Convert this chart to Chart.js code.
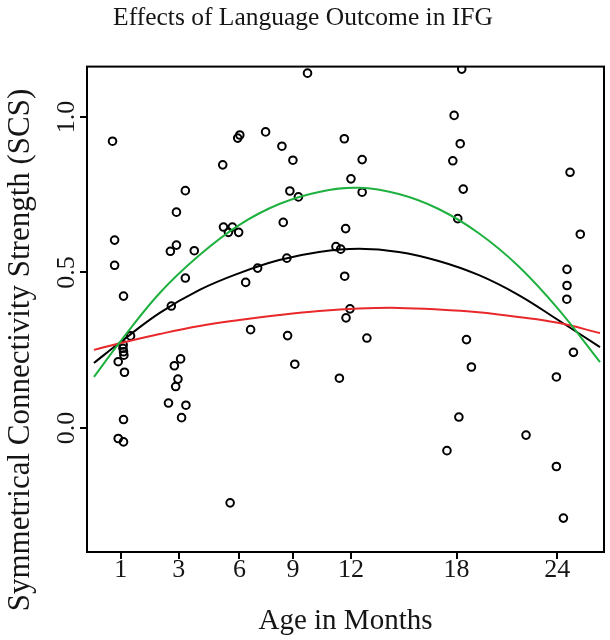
<!DOCTYPE html>
<html>
<head>
<meta charset="utf-8">
<script src="https://cdn.jsdelivr.net/npm/chart.js@4.4.1/dist/chart.umd.min.js"></script>
<style>
  html, body { margin: 0; padding: 0; background: #fff; }
  #wrap { width: 610px; height: 640px; }
</style>
</head>
<body>
<div id="wrap"><canvas id="scsChart" width="610" height="640"></canvas></div>
<script>
        // --- Data (x is the plotted age scale, ticks carry the month labels) ---
        const xTickPos = [1, 4.05, 7.25, 10.08, 13.13, 18.70, 24];
        const xTickLabels = ['1', '3', '6', '9', '12', '18', '24'];
        const yTicks = [0, 0.5, 1.0];

        // subjects: age and symmetrical connectivity strength
        const ageX = [0.56, 7.16, 7.27, 6.37, 4.40, 3.93, 0.67, 6.41, 6.67, 6.88,
            7.21, 3.93, 3.61, 4.87, 10.84, 8.63, 9.49, 10.07, 12.78, 13.72,
            13.13, 9.91, 10.36, 13.72, 9.56, 12.85, 12.34, 12.59, 9.75, 18.97,
            18.57, 18.89, 18.50, 19.05, 18.76, 24.68, 25.22, 0.67, 4.40, 1.14,
            3.66, 7.58, 8.21, 7.84, 1.51, 1.12, 1.11, 1.14, 1.16, 0.86,
            1.19, 4.15, 3.82, 4.01, 3.89, 3.51, 4.43, 4.20, 1.14, 0.86,
            1.14, 6.76, 12.80, 13.08, 12.87, 9.79, 13.97, 10.17, 12.52, 24.52,
            24.52, 24.51, 19.22, 24.86, 19.48, 23.96, 18.82, 22.36, 18.19, 23.96, 24.33];
        const scsY = [0.922, 0.932, 0.942, 0.846, 0.763, 0.694, 0.604, 0.646, 0.629, 0.646,
            0.629, 0.588, 0.568, 0.570, 1.141, 0.952, 0.906, 0.861, 0.930, 0.863,
            0.801, 0.762, 0.743, 0.758, 0.661, 0.641, 0.583, 0.575, 0.546, 1.154,
            1.005, 0.914, 0.859, 0.768, 0.673, 0.822, 0.623, 0.523, 0.482, 0.424,
            0.392, 0.468, 0.514, 0.316, 0.296, 0.267, 0.256, 0.245, 0.234, 0.213,
            0.179, 0.222, 0.200, 0.157, 0.133, 0.080, 0.073, 0.033, 0.027, -0.034,
            -0.045, -0.241, 0.488, 0.383, 0.354, 0.297, 0.289, 0.205, 0.160, 0.510,
            0.458, 0.414, 0.284, 0.243, 0.196, 0.164, 0.035, -0.023, -0.073, -0.124, -0.290];

        const curveX = [-0.42, 1.00, 3.05, 5.15, 7.25, 9.35, 11.45, 13.55, 15.65, 17.75, 19.85, 21.95, 24.05, 26.26];
        const greenY = [0.164, 0.280, 0.434, 0.556, 0.653, 0.720, 0.759, 0.772, 0.752, 0.704, 0.627, 0.521, 0.383, 0.212];
        const blackY = [0.209, 0.277, 0.370, 0.444, 0.498, 0.540, 0.566, 0.576, 0.566, 0.537, 0.492, 0.428, 0.347, 0.260];
        const redY = [0.251, 0.273, 0.302, 0.328, 0.347, 0.363, 0.376, 0.384, 0.386, 0.381, 0.372, 0.357, 0.338, 0.305];

        const FONT = "'Liberation Serif', 'Times New Roman', serif";
        const TEXT = '#151515';
        const Y_TITLE = 'Symmetrical Connectivity Strength (SCS)';

        function curve(ys, color) {
            return {
                type: 'line',
                data: curveX.map((x, i) => ({ x: x, y: ys[i] })),
                borderColor: color,
                borderWidth: 2,
                pointRadius: 0,
                tension: 0.4,
                fill: false
            };
        }

        // box around the plot region
        const boxPlugin = {
            id: 'plotBox',
            afterDraw(chart) {
                const a = chart.chartArea;
                const c = chart.ctx;
                c.save();
                c.strokeStyle = '#000';
                c.lineWidth = 2;
                c.strokeRect(a.left, a.top, a.right - a.left, a.bottom - a.top);
                c.restore();
            }
        };

        // y axis title, sits a little lower than the plot centre (as in the original figure)
        const yTitlePlugin = {
            id: 'yTitle',
            afterDraw(chart) {
                const c = chart.ctx;
                c.save();
                c.translate(21, 350);
                c.rotate(-Math.PI / 2);
                c.font = "31px " + FONT;
                c.fillStyle = TEXT;
                c.textAlign = 'center';
                c.textBaseline = 'middle';
                c.fillText(Y_TITLE, 0, 0);
                c.restore();
            }
        };

        const ctx = document.getElementById('scsChart').getContext('2d');
        const chart = new Chart(ctx, {
            data: {
                datasets: [
                    curve(greenY, '#1fb13f'),
                    curve(redY, '#e8282b'),
                    curve(blackY, '#000000'),
                    {
                        type: 'scatter',
                        data: ageX.map((x, i) => ({ x: x, y: scsY[i] })),
                        pointRadius: 3.8,
                        pointBorderWidth: 2,
                        pointBorderColor: '#000',
                        pointBackgroundColor: 'rgba(0,0,0,0)',
                        showLine: false
                    }
                ]
            },
            options: {
                responsive: false,
                animation: false,
                layout: { padding: { top: 0, left: 0, right: 4, bottom: 0 } },
                scales: {
                    x: {
                        type: 'linear',
                        min: -0.785,
                        max: 26.47,
                        afterBuildTicks: (scale) => {
                            scale.ticks = xTickPos.map(v => ({ value: v }));
                        },
                        afterFit: (scale) => { scale.height = 88; },
                        ticks: {
                            autoSkip: false,
                            maxRotation: 0,
                            padding: -4,
                            color: TEXT,
                            font: { family: FONT, size: 26 },
                            callback: (val, idx) => xTickLabels[idx]
                        },
                        grid: { drawOnChartArea: false, drawTicks: true, tickLength: 7, color: '#000', lineWidth: 2 },
                        border: { display: false },
                        title: {
                            display: true,
                            text: 'Age in Months',
                            color: TEXT,
                            font: { family: FONT, size: 29 },
                            padding: { top: 0, bottom: 1 }
                        }
                    },
                    y: {
                        type: 'linear',
                        min: -0.399,
                        max: 1.162,
                        afterBuildTicks: (scale) => {
                            scale.ticks = yTicks.map(v => ({ value: v }));
                        },
                        afterFit: (scale) => { scale.width = 87; },
                        ticks: {
                            minRotation: 90,
                            maxRotation: 90,
                            crossAlign: 'center',
                            padding: -3,
                            color: TEXT,
                            font: { family: FONT, size: 26 },
                            callback: (val) => val.toFixed(1)
                        },
                        grid: { drawOnChartArea: false, drawTicks: true, tickLength: 7, color: '#000', lineWidth: 2 },
                        border: { display: false },
                        title: { display: false }
                    }
                },
                plugins: {
                    legend: { display: false },
                    tooltip: { enabled: false },
                    title: {
                        display: true,
                        text: 'Effects of Language Outcome in IFG',
                        color: TEXT,
                        font: { family: FONT, size: 25.5, weight: 'normal' },
                        padding: { top: 3, bottom: 33 }
                    }
                }
            },
            plugins: [boxPlugin, yTitlePlugin]
        });
</script>
</body>
</html>
